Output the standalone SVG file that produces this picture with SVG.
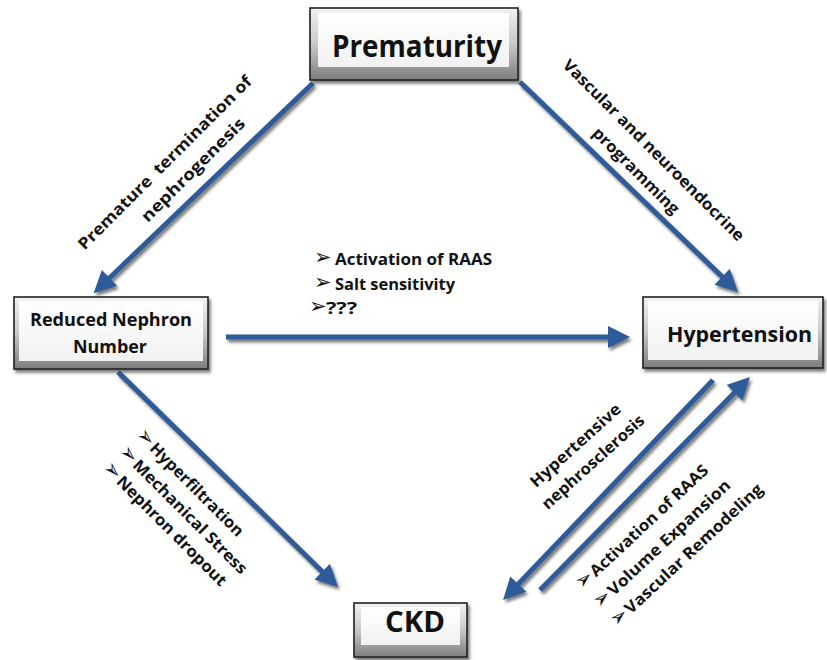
<svg xmlns="http://www.w3.org/2000/svg" width="827" height="660" viewBox="0 0 827 660">
<defs>
<style>
.lbl{font-family:"Open Sans","Noto Sans",sans-serif;font-weight:700;font-size:16px;fill:#111}
.bul{font-family:"DejaVu Sans",sans-serif;font-size:21px;fill:#111}
.node{font-family:"Open Sans","Noto Sans",sans-serif;font-weight:700;fill:#111;text-anchor:middle}
.edge{stroke:#2d5b98;stroke-width:5;fill:none;marker-end:url(#ah)}
.outer{fill:url(#bevel);stroke:#222;stroke-width:1.6}
.face{fill:url(#face)}
</style>
<linearGradient id="bevel" x1="0" y1="0" x2="0" y2="1">
<stop offset="0" stop-color="#f2f2f2"/>
<stop offset="0.5" stop-color="#c8c8c8"/>
<stop offset="1" stop-color="#7d7d7d"/>
</linearGradient>
<linearGradient id="face" x1="0" y1="0" x2="0" y2="1">
<stop offset="0" stop-color="#ffffff"/>
<stop offset="1" stop-color="#f1f1f1"/>
</linearGradient>
<filter id="sh" x="-20%" y="-20%" width="140%" height="140%">
<feDropShadow dx="2" dy="3" stdDeviation="1.5" flood-color="#444" flood-opacity="0.7"/>
</filter>
<marker id="ah" viewBox="0 0 10 10" markerWidth="4.6" markerHeight="4.4" refX="2" refY="5" orient="auto">
<path d="M0,0 L10,5 L0,10 z" fill="#2d5b98"/>
</marker>
</defs>
<rect width="827" height="660" fill="#ffffff"/>

<g id="connectors" filter="url(#sh)">
<line class="edge" x1="313" y1="83" x2="106.3" y2="281"/>
<line class="edge" x1="520" y1="82" x2="725.3" y2="279.8"/>
<line class="edge" x1="226" y1="337" x2="612.4" y2="337"/>
<line class="edge" x1="118" y1="372" x2="325.4" y2="574.7"/>
<line class="edge" x1="713" y1="380" x2="515.2" y2="587.3"/>
<line class="edge" x1="540" y1="590" x2="737.6" y2="389.5"/>
</g>

<g id="node-prematurity">
<rect class="outer" x="310" y="8" width="208" height="72" filter="url(#sh)"/>
<rect class="face" x="318" y="13" width="191" height="54"/>
<text class="node" x="417" y="57" font-size="31" textLength="170" lengthAdjust="spacingAndGlyphs">Prematurity</text>
</g>

<g id="node-reduced">
<rect class="outer" x="14" y="297" width="194" height="72" filter="url(#sh)"/>
<rect class="face" x="19" y="301" width="184" height="60"/>
<text class="node" x="111" y="326" font-size="17" textLength="162" lengthAdjust="spacingAndGlyphs">Reduced Nephron</text>
<text class="node" x="110" y="353" font-size="17" textLength="74" lengthAdjust="spacingAndGlyphs">Number</text>
</g>

<g id="node-hypertension">
<rect class="outer" x="643" y="297" width="180" height="71" filter="url(#sh)"/>
<rect class="face" x="648" y="301" width="170" height="59"/>
<text class="node" x="739.5" y="342" font-size="22" textLength="145" lengthAdjust="spacingAndGlyphs">Hypertension</text>
</g>

<g id="node-ckd">
<rect class="outer" x="354" y="603" width="113" height="54" filter="url(#sh)"/>
<rect class="face" x="361" y="607" width="99" height="38"/>
<text class="node" x="415" y="632" font-size="28" textLength="60" lengthAdjust="spacingAndGlyphs">CKD</text>
</g>

<g id="label-premature" transform="translate(168,166) rotate(-45)">
<text class="lbl" x="0" y="1" text-anchor="middle" textLength="238" lengthAdjust="spacingAndGlyphs">Premature&#160; termination of</text>
<text class="lbl" x="15" y="26" text-anchor="middle" textLength="139" lengthAdjust="spacingAndGlyphs">nephrogenesis</text>
</g>

<g id="label-vascular" transform="translate(652,152) rotate(45)">
<text class="lbl" x="0" y="3" text-anchor="middle" textLength="249" lengthAdjust="spacingAndGlyphs">Vascular and neuroendocrine</text>
<text class="lbl" x="2" y="30" text-anchor="middle" textLength="115" lengthAdjust="spacingAndGlyphs">programming</text>
</g>

<g id="label-middle">
<text class="bul" x="314" y="264">➢</text>
<text class="lbl" x="335" y="265" textLength="157" lengthAdjust="spacingAndGlyphs">Activation of RAAS</text>
<text class="bul" x="314" y="289">➢</text>
<text class="lbl" x="335" y="290" textLength="120" lengthAdjust="spacingAndGlyphs">Salt sensitivity</text>
<text class="bul" x="309" y="313">➢</text>
<text class="lbl" x="326" y="314" textLength="31" lengthAdjust="spacingAndGlyphs">???</text>
</g>

<g id="label-hyperfiltration" transform="translate(153,445) rotate(45)">
<text class="bul" x="-19" y="6">➢</text>
<text class="lbl" x="0" y="6" textLength="125" lengthAdjust="spacingAndGlyphs">Hyperfiltration</text>
<text class="bul" x="-19" y="30">➢</text>
<text class="lbl" x="0" y="30" textLength="154" lengthAdjust="spacingAndGlyphs">Mechanical Stress</text>
<text class="bul" x="-19" y="53">➢</text>
<text class="lbl" x="0" y="53" textLength="148" lengthAdjust="spacingAndGlyphs">Nephron dropout</text>
</g>

<g id="label-nephrosclerosis" transform="translate(576.5,446.5) rotate(-42)">
<text class="lbl" x="0" y="4" text-anchor="middle" textLength="116" lengthAdjust="spacingAndGlyphs">Hypertensive</text>
<text class="lbl" x="2" y="28" text-anchor="middle" textLength="132" lengthAdjust="spacingAndGlyphs">nephrosclerosis</text>
</g>

<g id="label-raas" transform="translate(592,573) rotate(-43)">
<text class="bul" x="-19" y="6">➢</text>
<text class="lbl" x="0" y="6" textLength="155" lengthAdjust="spacingAndGlyphs">Activation of RAAS</text>
<text class="bul" x="-19" y="32">➢</text>
<text class="lbl" x="0" y="32" textLength="161" lengthAdjust="spacingAndGlyphs">Volume Expansion</text>
<text class="bul" x="-19" y="57">➢</text>
<text class="lbl" x="0" y="57" textLength="182" lengthAdjust="spacingAndGlyphs">Vascular Remodeling</text>
</g>
</svg>
